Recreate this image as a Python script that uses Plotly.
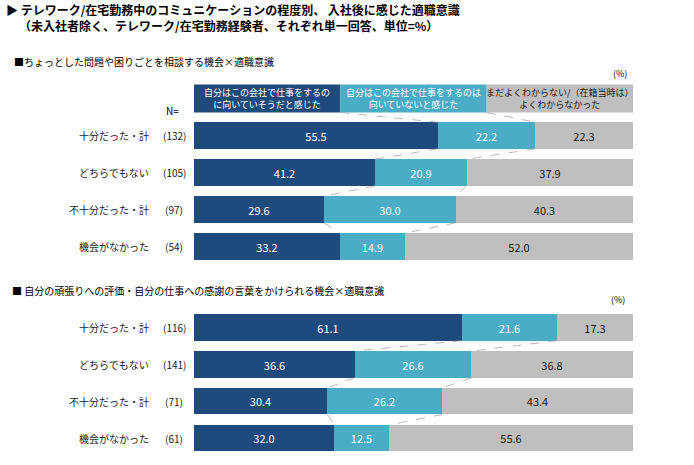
import plotly.graph_objects as go

W, H = 694, 465

categories = ["十分だった・計", "どちらでもない", "不十分だった・計", "機会がなかった"]
series_names = ["自分はこの会社で仕事をするの<br>に向いていそうだと感じた",
                "自分はこの会社で仕事をするのは<br>向いていないと感じた",
                "まだよくわからない/（在籍当時は）<br>よくわからなかった"]

n1 = ["(132)", "(105)", "(97)", "(54)"]
fit1 = [55.5, 41.2, 29.6, 33.2]
unfit1 = [22.2, 20.9, 30.0, 14.9]
unknown1 = [22.3, 37.9, 40.3, 52.0]

n2 = ["(116)", "(141)", "(71)", "(61)"]
fit2 = [61.1, 36.6, 30.4, 32.0]
unfit2 = [21.6, 26.6, 26.2, 12.5]
unknown2 = [17.3, 36.8, 43.4, 55.6]

colors = ["#1F4A7C", "#4BACC6", "#BFBFBF"]
text_colors = ["white", "white", "#1a1a1a"]
FONT = "Noto Sans CJK JP"
BW = 0.72

def px_x(p):
    return p / W

def px_y(p):
    return 1 - p / H

fig = go.Figure()
annotations = []
shapes = []

def add_panel(xa, ya, series, nlist):
    rows = list(range(len(categories)))
    for k, vals in enumerate(series):
        fig.add_trace(go.Bar(
            x=vals, y=rows, orientation="h", xaxis=xa, yaxis=ya,
            width=BW, marker=dict(color=colors[k], line=dict(width=0)),
            text=[f"{v:.1f}" for v in vals], textposition="inside",
            insidetextanchor="middle", constraintext="none",
            textfont=dict(color=text_colors[k], size=11, family=FONT),
            showlegend=False, hoverinfo="skip"))
    # connector dashed lines
    cums = []
    for i in rows:
        c1 = series[0][i]
        c2 = c1 + series[1][i]
        cums.append([c1, c2])
    for i in rows[:-1]:
        for k in range(2):
            fig.add_trace(go.Scatter(
                x=[cums[i][k], cums[i + 1][k]],
                y=[i + BW / 2, i + 1 - BW / 2],
                mode="lines", xaxis=xa, yaxis=ya,
                line=dict(color="#A6A6A6", width=0.8, dash="dash"),
                showlegend=False, hoverinfo="skip"))
    for i, (c, n) in enumerate(zip(categories, nlist)):
        annotations.append(dict(text=c, x=px_x(151), y=i, xref="paper", yref=ya,
                                xanchor="right", yanchor="middle", showarrow=False,
                                font=dict(size=10, family=FONT, color="#1a1a1a")))
        annotations.append(dict(text=n, x=px_x(174), y=i, xref="paper", yref=ya,
                                xanchor="center", yanchor="middle", showarrow=False,
                                font=dict(size=10, family=FONT, color="#1a1a1a")))
    return cums

cums1 = add_panel("x", "y", [fit1, unfit1, unknown1], n1)
add_panel("x2", "y2", [fit2, unfit2, unknown2], n2)

# header legend boxes in top panel (row -1)
bounds = [0, 100 / 3, 200 / 3, 100]
for k in range(3):
    shapes.append(dict(type="rect", xref="x", yref="y", x0=bounds[k], x1=bounds[k + 1],
                       y0=-1 - 0.38, y1=-1 + 0.38, fillcolor=colors[k], line=dict(width=0),
                       layer="below"))
    annotations.append(dict(text=series_names[k], x=(bounds[k] + bounds[k + 1]) / 2, y=-1,
                            xref="x", yref="y", showarrow=False, xanchor="center",
                            yanchor="middle", align="center",
                            font=dict(size=9, family=FONT, color=text_colors[k])))
for k in range(2):
    fig.add_trace(go.Scatter(
        x=[bounds[k + 1], cums1[0][k]], y=[-1 + 0.38, 0 - BW / 2],
        mode="lines", xaxis="x", yaxis="y",
        line=dict(color="#A6A6A6", width=0.8, dash="dash"),
        showlegend=False, hoverinfo="skip"))

annotations += [
    dict(text="<b>▶ テレワーク/在宅勤務中のコミュニケーションの程度別、 入社後に感じた適職意識</b>",
         x=px_x(4), y=px_y(10), xref="paper", yref="paper", xanchor="left", yanchor="middle",
         showarrow=False, font=dict(size=12, family=FONT, color="#000")),
    dict(text="<b>（未入社者除く、テレワーク/在宅勤務経験者、それぞれ単一回答、単位=%）</b>",
         x=px_x(17), y=px_y(26), xref="paper", yref="paper", xanchor="left", yanchor="middle",
         showarrow=False, font=dict(size=12, family=FONT, color="#000")),
    dict(text="■ちょっとした問題や困りごとを相談する機会×適職意識",
         x=px_x(12), y=px_y(61), xref="paper", yref="paper", xanchor="left", yanchor="middle",
         showarrow=False, font=dict(size=10, family=FONT, color="#000")),
    dict(text="■ 自分の頑張りへの評価・自分の仕事への感謝の言葉をかけられる機会×適職意識",
         x=px_x(10), y=px_y(290), xref="paper", yref="paper", xanchor="left", yanchor="middle",
         showarrow=False, font=dict(size=10, family=FONT, color="#000")),
    dict(text="N=", x=px_x(172), y=px_y(110), xref="paper", yref="paper", xanchor="center",
         yanchor="middle", showarrow=False, font=dict(size=10, family=FONT, color="#000")),
    dict(text="(%)", x=px_x(620), y=px_y(73), xref="paper", yref="paper", xanchor="center",
         yanchor="middle", showarrow=False, font=dict(size=9, family=FONT, color="#000")),
    dict(text="(%)", x=px_x(618), y=px_y(299), xref="paper", yref="paper", xanchor="center",
         yanchor="middle", showarrow=False, font=dict(size=9, family=FONT, color="#000")),
]

xdom = [px_x(194), px_x(633)]
axis_common = dict(showgrid=False, zeroline=False, showticklabels=False, showline=False,
                   ticks="", fixedrange=True)
fig.update_layout(
    width=W, height=H, margin=dict(l=0, r=0, t=0, b=0),
    paper_bgcolor="white", plot_bgcolor="white",
    barmode="stack", bargap=0,
    font=dict(family=FONT),
    xaxis=dict(domain=xdom, range=[0, 100], **axis_common),
    yaxis=dict(domain=[px_y(265), px_y(80)], range=[3.5, -1.5], **axis_common),
    xaxis2=dict(domain=xdom, range=[0, 100], anchor="y2", **axis_common),
    yaxis2=dict(domain=[px_y(456.5), px_y(309)], range=[3.5, -0.5], anchor="x2", **axis_common),
    annotations=annotations, shapes=shapes,
)

fig.write_html("out.html")
